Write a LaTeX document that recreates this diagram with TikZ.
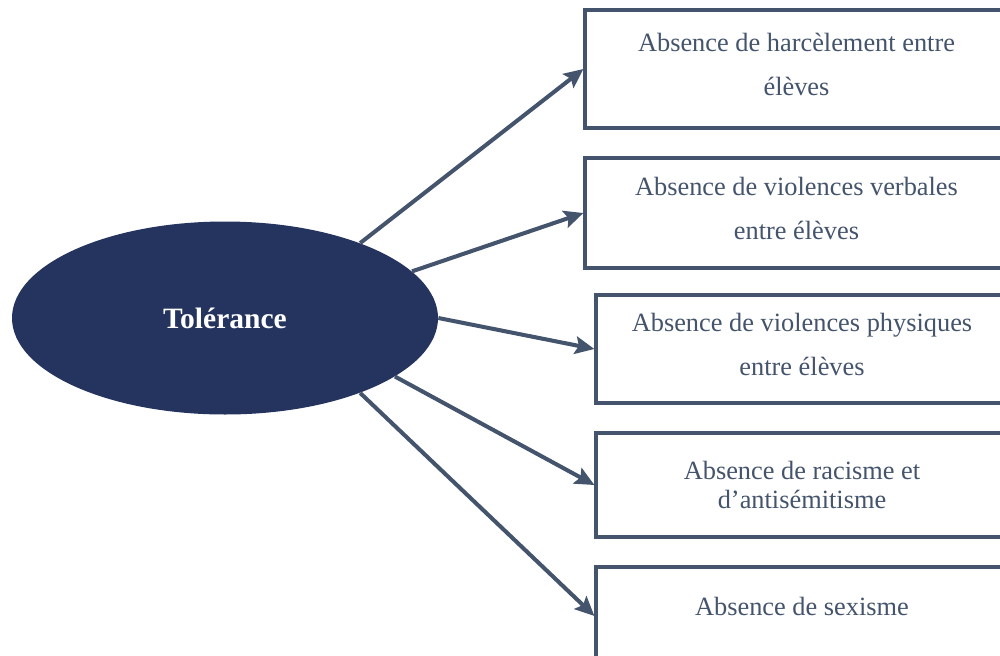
\documentclass[tikz,border=0pt]{standalone}
\usepackage{fontspec}
\setmainfont{Liberation Serif}
\usetikzlibrary{shapes.geometric, arrows.meta}
\definecolor{tolnavy}{RGB}{36,52,94}
\definecolor{tolslate}{RGB}{68,84,108}

\begin{document}
\begin{tikzpicture}[
    effet/.style={rectangle, draw=tolslate, line width=1.8pt,
                  fill=white, text=tolslate, minimum width=8.46cm,
                  font=\fontsize{15}{25}\selectfont, align=center},
    valeur/.style={ellipse, fill=tolnavy, text=white, inner sep=0pt,
                   minimum width=8.52cm, minimum height=3.86cm,
                   font=\fontsize{16.8}{20}\selectfont\bfseries},
    arr/.style={-{Stealth[length=11pt, width=10pt, inset=2pt]},
                line width=2.3pt, color=tolslate}
  ]
    \useasboundingbox (0,0) rectangle (20,-13.1);
    \clip (0,0) rectangle (20,-13.1);
    \node[valeur] (tol) at (4.5,-6.36) {Tolérance};
    \node[effet, minimum height=2.36cm, text depth=0.2cm] (b1) at (15.93,-1.38) {Absence de harcèlement entre\\élèves};
    \node[effet, minimum height=2.2cm, text depth=0.2cm]  (b2) at (15.93,-4.26) {Absence de violences verbales\\entre élèves};
    \node[effet, minimum width=8.24cm, minimum height=2.16cm,
          text depth=0.2cm] (b3) at (16.04,-6.98) {Absence de violences physiques\\entre élèves};
    \node[effet, minimum width=8.24cm, minimum height=2.08cm,
          font=\fontsize{15}{17}\selectfont] (b4) at (16.04,-9.70) {Absence de racisme et\\d’antisémitisme};
    \node[effet, minimum width=8.24cm, minimum height=1.96cm,
          text depth=0.4cm] (b5) at (16.04,-12.32) {Absence de sexisme};
    \draw[arr](tol.29)--(b1.west); \draw[arr](tol.14)--(b2.west);
    \draw[arr](tol.east)--(b3.west); \draw[arr](tol.-19)--(b4.west);
    \draw[arr](tol.-29)--(b5.west);
  \end{tikzpicture}
\end{document}
